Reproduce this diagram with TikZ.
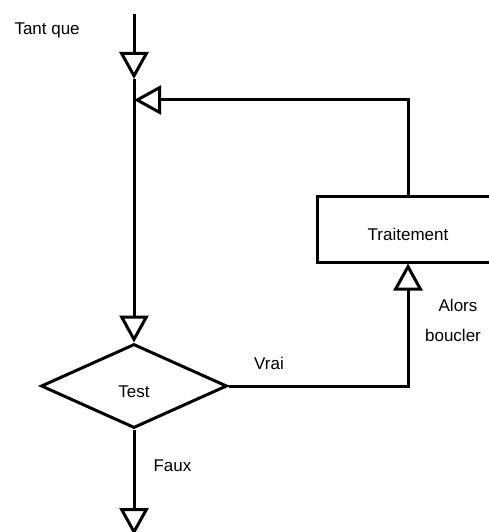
\documentclass[tikz,border=0pt]{standalone}
\usepackage{fontspec}
\setmainfont{Liberation Sans}
\usepackage{tikz}
\usetikzlibrary{arrows.meta, positioning, shapes.geometric}

\begin{document}
\begin{tikzpicture}
                        [x=1pt, y=-1pt,
                         line width=3pt,
                         every node/.style={font=\fontsize{17}{20}\selectfont},
                         flow/.style={draw, -{Triangle[open, length=27pt, width=29pt]}},
                         process/.style={draw, rectangle, minimum width=182pt, minimum height=66pt,
                                         inner sep=0pt, text height=22pt, text depth=0pt},
                         decision/.style={draw, diamond, minimum width=186pt, minimum height=84pt,
                                          inner sep=0pt, text height=22pt, text depth=0pt}]

                        \clip (0,0) rectangle (489,532);

                        \coordinate (start) at (134,14);
                        \coordinate (enter) at (134,79);
                        \coordinate (join) at (134,100);
                        \coordinate (exit) at (134,535);

                        \node[decision] (test) at (134,386) {Test};
                        \node[process] (trait) at (408,229) {Traitement};

                        % texts
                        \node[anchor=base west, inner sep=0pt] (tantque) at (13,35) {Tant que};
                        \node[anchor=base, inner sep=0pt] (vrai) at (269,369) {Vrai};
                        \node[anchor=base west, inner sep=0pt] (faux) at (152,471) {Faux};
                        \node[anchor=base, inner sep=0pt] (alors) at (458,311) {Alors};
                        \node[anchor=base, inner sep=0pt] (boucler) at (453,341) {boucler};

                        \draw[flow] (start) -- (enter);
                        \draw[flow] (enter) -- (test);
                        \draw[flow] (trait) |- (join);
                        \draw[flow] (test) -| (trait);
                        \draw[flow] (test) -- (exit);
                    \end{tikzpicture}
\end{document}
